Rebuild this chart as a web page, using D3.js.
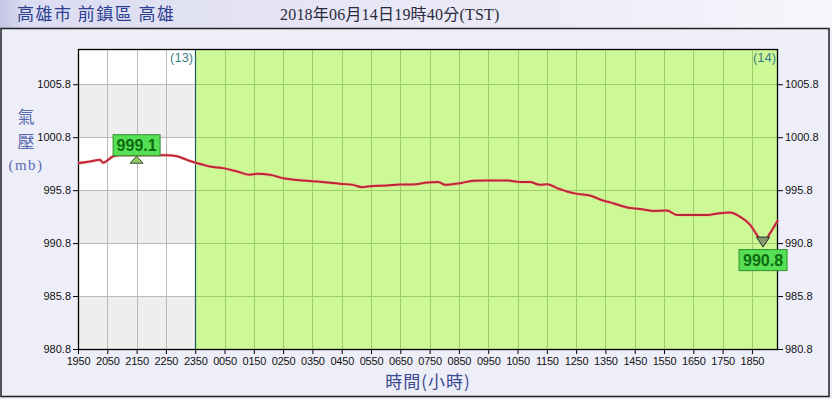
<!DOCTYPE html>
<html><head><meta charset="utf-8">
<script src="https://cdn.jsdelivr.net/npm/d3@7"></script>
<style>body{margin:0;background:#fff;}svg{display:block;}</style>
</head><body><svg id="c" width="832" height="399"></svg>
<script>
const titleLeft = "高雄市 前鎮區 高雄";
const titleDate = "2018年06月14日19時40分(TST)";
const xTickLabels = ["1950","2050","2150","2250","2350","0050","0150","0250","0350","0450","0550","0650","0750","0850","0950","1050","1150","1250","1350","1450","1550","1650","1750","1850"];
const yTicks = [980.8, 985.8, 990.8, 995.8, 1000.8, 1005.8];
const dayLabels = ["(13)", "(14)"];
const dayBoundaryHour = 4;
const hoursFromStart = [0,0.41,0.75,0.85,1.19,1.43,2.12,3.04,3.38,3.72,4.0,4.27,4.5,4.95,5.43,5.87,6.11,6.55,7.0,7.68,8.26,8.94,9.39,9.69,10.07,10.55,10.99,11.43,11.91,12.29,12.53,13.04,13.48,13.96,14.64,15.09,15.43,15.77,16.01,16.35,16.69,17.03,17.47,17.92,18.26,18.74,19.18,19.62,20.1,20.44,20.99,21.47,21.91,22.25,22.59,22.94,23.17,23.38,23.62,23.89];
const pressure = [998.35,998.5,998.66,998.4,998.98,999.1,999.1,999.1,999.0,998.66,998.4,998.2,998.03,997.88,997.56,997.25,997.34,997.25,996.93,996.71,996.6,996.4,996.3,996.08,996.2,996.24,996.33,996.33,996.52,996.58,996.3,996.46,996.68,996.71,996.71,996.56,996.56,996.3,996.36,995.99,995.67,995.45,995.29,994.82,994.57,994.16,994.03,993.84,993.87,993.46,993.46,993.46,993.63,993.68,993.3,992.52,991.58,990.8,991.74,992.99];
const maxMarker = {h: 2.0, v: 999.1, label: "999.1"};
const minMarker = {h: 23.38, v: 990.8, label: "990.8"};
const yLabel = ["氣","壓","(mb)"];
const xLabel = "時間(小時)";

const svg = d3.select("#c");
const L=78, R=778, T=49, B=349;
const x = d3.scaleLinear().domain([0, 23.89]).range([L, R]);
const y = d3.scaleLinear().domain([980.8, 1009.13]).range([B, T]);

// background
svg.append("rect").attr("width",832).attr("height",399).attr("fill","#eeeef9");
const defs = svg.append("defs");
const g1 = defs.append("linearGradient").attr("id","tb");
g1.append("stop").attr("offset","0").attr("stop-color","#c4c4e4");
g1.append("stop").attr("offset","0.03").attr("stop-color","#dcdcf2");
g1.append("stop").attr("offset","1").attr("stop-color","#f6f6fc");
svg.append("rect").attr("x",0).attr("y",0).attr("width",832).attr("height",28).attr("fill","url(#tb)");
svg.append("rect").attr("x",1).attr("y",28.5).attr("width",828).attr("height",368).attr("fill","none").attr("stroke","#222").attr("stroke-width",1.5);

// white region bands
const xb = x(dayBoundaryHour);
svg.append("rect").attr("x",L).attr("y",T).attr("width",xb-L).attr("height",B-T).attr("fill","#ffffff");
yTicks.forEach((t,i)=>{ if(i%2===0){ svg.append("rect").attr("x",L).attr("y",y(t+5)).attr("width",xb-L).attr("height",y(t)-y(t+5)).attr("fill","#eeeeee"); }});
svg.append("rect").attr("x",xb).attr("y",T).attr("width",R-xb).attr("height",B-T).attr("fill","#cdf896");

// grid
const hours = d3.range(xTickLabels.length);
hours.forEach(h=>{
  const px = Math.round(x(h))+0.5;
  svg.append("line").attr("x1",px).attr("x2",px).attr("y1",T).attr("y2",B)
    .attr("stroke", h<dayBoundaryHour? "#b8b8b8":"#9ccc6c").attr("stroke-width",1);
});
yTicks.forEach(t=>{
  const py = Math.round(y(t))+0.5;
  svg.append("line").attr("x1",L).attr("x2",xb).attr("y1",py).attr("y2",py).attr("stroke","#b8b8b8");
  svg.append("line").attr("x1",xb).attr("x2",R).attr("y1",py).attr("y2",py).attr("stroke","#9ccc6c");
});
svg.append("line").attr("x1",Math.round(xb)+0.5).attr("x2",Math.round(xb)+0.5).attr("y1",T).attr("y2",B).attr("stroke","#1d5a5a").attr("stroke-width",1.2);

// axes
const fmtY = d3.format(".1f");
const yl = svg.append("g").attr("transform",`translate(${L},0)`).call(d3.axisLeft(y).tickValues(yTicks).tickFormat(fmtY).tickSize(5).tickPadding(2));
const yr = svg.append("g").attr("transform",`translate(${R},0)`).call(d3.axisRight(y).tickValues(yTicks).tickFormat(fmtY).tickSize(5).tickPadding(2));
const xa = svg.append("g").attr("transform",`translate(0,${B})`).call(d3.axisBottom(x).tickValues(hours).tickFormat(i=>xTickLabels[i]).tickSize(5).tickPadding(1));
[yl,yr,xa].forEach(a=>{
  a.selectAll("path").remove();
  a.selectAll("line").attr("stroke","#000");
  a.selectAll("text").attr("fill","#111").style("font-family","Liberation Sans, Arial, sans-serif").style("font-size","11px");
});
xa.selectAll("text").attr("dy","0.9em").style("letter-spacing","-0.2px");
svg.append("rect").attr("x",L+0.5).attr("y",T+0.5).attr("width",R-L-1).attr("height",B-T).attr("fill","none").attr("stroke","#000").attr("stroke-width",1.3);

// day labels
svg.append("text").attr("x",xb-2).attr("y",T+13).attr("text-anchor","end").text(dayLabels[0])
  .attr("fill","#3b7f86").style("font-family","Liberation Sans, Arial, sans-serif").style("font-size","13px");
svg.append("text").attr("x",R-2).attr("y",T+13).attr("text-anchor","end").text(dayLabels[1])
  .attr("fill","#3b7f86").style("font-family","Liberation Sans, Arial, sans-serif").style("font-size","13px");

// line
const pts = hoursFromStart.map((h,i)=>[h,pressure[i]]);
const line = d3.line().x(d=>x(d[0])).y(d=>y(d[1])).curve(d3.curveMonotoneX);
svg.append("path").datum(pts).attr("d",line).attr("fill","none").attr("stroke","#f0b090").attr("stroke-width",3.2).attr("opacity",0.6);
svg.append("path").datum(pts).attr("d",line).attr("fill","none").attr("stroke","#c0223a").attr("stroke-width",2);

// markers
function marker(m, up){
  const cx = x(m.h), cy = y(m.v);
  if(up){
    svg.append("path").attr("d",`M${cx},${cy+1}L${cx+6.5},${cy+8}L${cx-6.5},${cy+8}Z`).attr("fill","#8fcc6a").attr("stroke","#334433");
    svg.append("rect").attr("x",cx-23.5).attr("y",cy-20.5).attr("width",47).attr("height",21).attr("fill","#55e055").attr("stroke","#2f8f2f");
    svg.append("text").attr("x",cx).attr("y",cy-4).attr("text-anchor","middle").text(m.label)
      .attr("fill","#0d6a10").style("font-family","Liberation Sans, Arial, sans-serif").style("font-size","16px").style("font-weight","bold");
  } else {
    svg.append("path").attr("d",`M${cx},${cy+4}L${cx+6.5},${cy-6}L${cx-6.5},${cy-6}Z`).attr("fill","#8a9a70").attr("stroke","#223322");
    svg.append("rect").attr("x",cx-24).attr("y",cy+6.5).attr("width",48).attr("height",21).attr("fill","#55e055").attr("stroke","#2f8f2f");
    svg.append("text").attr("x",cx).attr("y",cy+23).attr("text-anchor","middle").text(m.label)
      .attr("fill","#0d6a10").style("font-family","Liberation Sans, Arial, sans-serif").style("font-size","16px").style("font-weight","bold");
  }
}
marker(maxMarker, true);
marker(minMarker, false);

// titles
svg.append("text").attr("x",17).attr("y",20).text(titleLeft).attr("fill","#2c3f8f")
  .style("font-family","Noto Sans CJK TC, sans-serif").style("font-size","17px").style("letter-spacing","1.5px");
svg.append("text").attr("x",280).attr("y",20).text(titleDate).attr("fill","#2a2a3a")
  .style("font-family","Liberation Serif, Noto Sans CJK TC, serif").style("font-size","16px").style("letter-spacing","0.2px");

// axis titles
const lf = "Noto Sans CJK TC, sans-serif";
svg.append("text").attr("x",26).attr("y",123).attr("text-anchor","middle").text(yLabel[0]).attr("fill","#5a6bb0").style("font-family",lf).style("font-size","17px");
svg.append("text").attr("x",26).attr("y",148).attr("text-anchor","middle").text(yLabel[1]).attr("fill","#5a6bb0").style("font-family",lf).style("font-size","17px");
svg.append("text").attr("x",26).attr("y",170).attr("text-anchor","middle").text(yLabel[2]).attr("fill","#5a6bb0").style("font-family","Liberation Serif, serif").style("font-size","15px").style("letter-spacing","1.5px");
svg.append("text").attr("x",428).attr("y",388).attr("text-anchor","middle").text(xLabel).attr("fill","#3a4a90").style("font-family",lf).style("font-size","17px").style("letter-spacing","1px");
</script></body></html>
